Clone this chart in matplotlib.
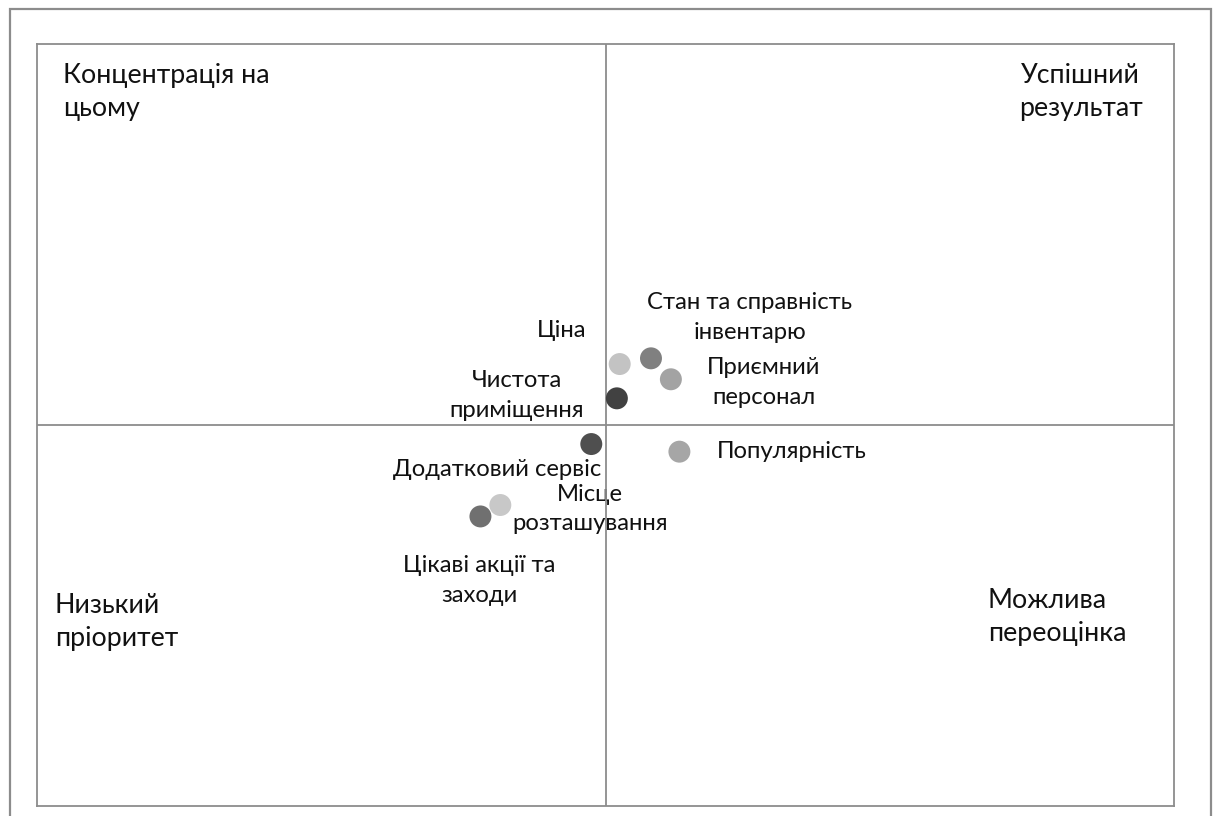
import matplotlib
matplotlib.use("Agg")
import matplotlib.pyplot as plt
from matplotlib.patches import Rectangle

plt.rcParams['font.family'] = ['Lato', 'DejaVu Sans']

# Attribute scores: x = importance, y = performance (1..5 scale)
labels = [
    "Ціна",
    "Стан та справність\nінвентарю",
    "Приємний\nперсонал",
    "Чистота\nприміщення",
    "Додатковий сервіс",
    "Популярність",
    "Місце\nрозташування",
    "Цікаві акції та\nзаходи",
]
x_vals = [3.05, 3.16, 3.23, 3.04, 2.95, 3.26, 2.63, 2.56]
y_vals = [3.32, 3.35, 3.24, 3.14, 2.90, 2.86, 2.58, 2.52]
colors = ["#c3c3c3", "#808080", "#a3a3a3", "#414141",
          "#4f4f4f", "#a6a6a6", "#c8c8c8", "#707070"]

quadrant_names = ["Концентрація на\nцьому", "Успішний\nрезультат",
                  "Низький\nпріоритет", "Можлива\nпереоцінка"]

x_mid, y_mid = 3.0, 3.0
x_range = (1.0, 5.0)
y_range = (1.0, 5.0)

W, H = 1216, 816
fig = plt.figure(figsize=(W / 100, H / 100), dpi=100)
fig.patch.set_facecolor("white")

# outer frame
fig.add_artist(Rectangle((10 / W, -0.05), 1201 / W, (816 - 9) / H + 0.05,
                         transform=fig.transFigure, fill=False,
                         edgecolor="#8c8c8c", linewidth=1.6))

ax = fig.add_axes([37 / W, 10 / H, 1137 / W, 762 / H])
ax.set_xlim(*x_range)
ax.set_ylim(*y_range)
ax.set_xticks([])
ax.set_yticks([])
for sp in ax.spines.values():
    sp.set_color("#8c8c8c")
    sp.set_linewidth(1.3)

ax.axvline(x_mid, color="#8c8c8c", linewidth=1.3, zorder=4)
ax.axhline(y_mid, color="#8c8c8c", linewidth=1.3, zorder=4)

ax.scatter(x_vals, y_vals, s=250, c=colors, edgecolors="none", zorder=5)

# label offsets from each point, in pixels (dx right, dy up)
offsets = [(-58, 34), (99, 41), (93, -3), (-100, 3),
           (-94, -25), (112, 0), (90, -4), (-1, -64)]
for lab, xv, yv, (dx, dy) in zip(labels, x_vals, y_vals, offsets):
    ax.annotate(lab, (xv, yv), xytext=(dx * 0.72, dy * 0.72),
                textcoords="offset points", ha="center", va="center",
                fontsize=17.2, color="#111111", linespacing=1.5, zorder=3)

# quadrant captions (axes fractions)
q_pos = [(0.0229, 0.937, "left"), (0.918, 0.937, "center"),
         (0.0158, 0.2415, "left"), (0.8364, 0.248, "left")]
for name, (qx, qy, ha) in zip(quadrant_names, q_pos):
    ax.text(qx, qy, name, transform=ax.transAxes, ha=ha, va="center",
            fontsize=19.3, color="#111111", linespacing=1.42)

fig.savefig("out.png", dpi=100)
